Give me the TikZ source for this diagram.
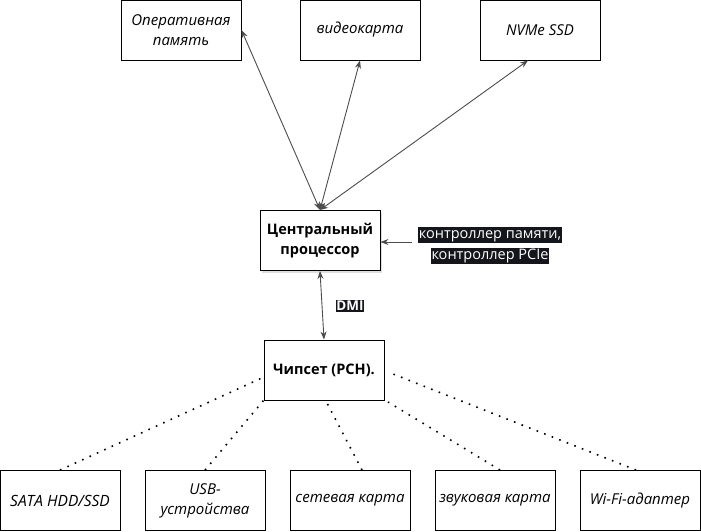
\documentclass[tikz,border=0pt]{standalone}
\usepackage{fontspec}
\setmainfont{Open Sans}
\usetikzlibrary{arrows.meta,shadows}
\definecolor{hlbg}{RGB}{20,22,28}
\begin{document}
\begin{tikzpicture}[x=1pt,y=-1pt,
  box/.style={draw,line width=0.9pt,minimum width=120pt,minimum height=60pt,inner sep=1pt,align=center,font=\fontsize{15}{20}\selectfont\itshape},
  bbox/.style={box,font=\fontsize{14.5}{20}\selectfont\bfseries},
  tip/.style={Stealth[length=8pt,width=6pt,fill=black]},
  arr/.style={line width=0.9pt,draw=black!70,{Stealth[length=8pt,width=6pt]}-{Stealth[length=8pt,width=6pt]}},
  dot/.style={line width=1.6pt,dash pattern=on 1.6pt off 6.5pt},
  hl/.style={fill=hlbg,text=white,inner sep=0.8pt,font=\fontsize{14.5}{16}\selectfont}]
\useasboundingbox (0,0) rectangle (701,531);
\node[box] (ram) at (181,30) {Оперативная\\память};
\node[box] (gpu) at (360,30) {видеокарта};
\node[box] (ssd) at (540,30) {NVMe SSD};
\node[bbox,drop shadow={opacity=0.25,shadow xshift=2pt,shadow yshift=-2pt},fill=white] (cpu) at (320,240.5) {Центральный\\процессор};
\node[bbox] (pch) at (324,370) {Чипсет (PCH).};
\node[box,font=\fontsize{15.5}{20}\selectfont\itshape] (sata) at (60,500.5) {SATA HDD/SSD};
\node[box] (usb) at (205,500.5) {USB-\\устройства};
\node[box] (net) at (350,500.5) {сетевая карта};
\node[box] (snd) at (495,500.5) {звуковая карта};
\node[box] (wifi) at (640,500.5) {Wi-Fi-адаптер};
\node[hl,text height=11pt,text depth=4pt] (l1) at (490,235) {контроллер памяти,};
\node[hl,text height=11pt,text depth=4pt] (l2) at (490,256) {контроллер PCIe};
\node[hl,font=\fontsize{13.5}{15}\selectfont\bfseries] (dmi) at (350,306) {DMI};
\coordinate (ct) at (320,210);
\draw[arr] (ct) -- (ram.east);
\draw[arr] (ct) -- (gpu.south);
\draw[arr] (ct) -- ([xshift=-12pt]ssd.south);
\draw[arr] (cpu.south) -- (pch.north);
\draw[line width=0.9pt,draw=black!70,-{Stealth[length=8pt,width=6pt]}] ([xshift=-6pt]l1.west |- 0,242) -- (cpu.east |- 0,242);
\draw[dot] (sata.north) -- (264,377);
\draw[dot] (usb.north) -- (pch.south west);
\draw[dot] (362,470) -- (327,403);
\draw[dot] (500,470) -- (388,402);
\draw[dot] (636,470) -- (388,372);
\end{tikzpicture}
\end{document}
